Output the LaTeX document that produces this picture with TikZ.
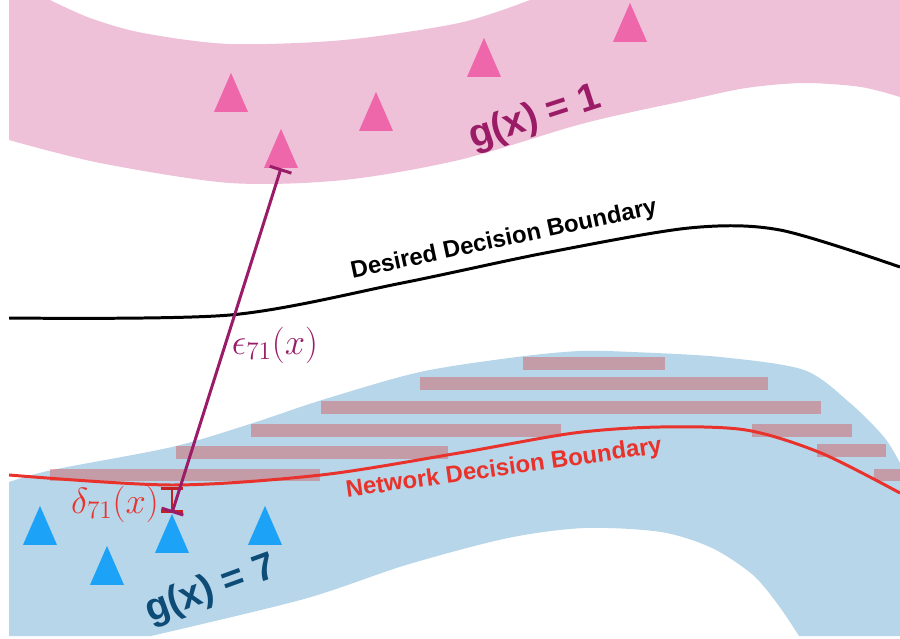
\documentclass[tikz,border=0pt]{standalone}
\usepackage{fontspec}
\setsansfont{Liberation Sans}
\usetikzlibrary{arrows.meta, shapes.geometric}
\definecolor{bandpink}{HTML}{EEC1D8}
\definecolor{bandblue}{HTML}{B8D6E9}
\definecolor{tripink}{HTML}{EE67AA}
\definecolor{triblue}{HTML}{1CA3F8}
\definecolor{barred}{HTML}{E11612}
\definecolor{netred}{HTML}{E8322B}
\definecolor{onemag}{HTML}{9B1C66}
\definecolor{sevennavy}{HTML}{0E4C78}
\definecolor{epsmag}{HTML}{9A1C68}
\definecolor{deltared}{HTML}{C42222}
\tikzset{
  % campione di una classe
  sample/.style={isosceles triangle, isosceles triangle stretches, shape border rotate=90,
    minimum width=0.68cm, minimum height=0.78cm, inner sep=0pt, anchor=apex, draw=none},
  pinksample/.style={sample, fill=tripink},
  bluesample/.style={sample, fill=triblue},
  % barre della zona sbagliata
  wrongbar/.style={fill=barred, fill opacity=0.3},
  % frontiere di decisione
  boundary/.style={line width=1.7pt, line join=round},
  % etichette
  bdlbl/.style={font=\fontsize{13.6}{15}\selectfont\sffamily\bfseries},
  classlbl/.style={font=\fontsize{22}{26}\selectfont\sffamily\bfseries},
  mathlbl/.style={font=\fontsize{20}{24}\selectfont},
  % distanze misurate
  dist/.style={{Bar[width=13pt]}-{Bar[width=13pt]}, line width=1.7pt},
}
\begin{document}
\begin{tikzpicture}[x=0.02cm, y=-0.02cm]
  \fill[white] (0,0) rectangle (900,639);
  \begin{scope}
    \clip (9,0) rectangle (900,636);
    % fascia g(x) = 1
    \fill[bandpink] (9,0) -- plot[smooth] coordinates {(50,0) (90,18) (143,33) (230,44) (344,40) (459,23) (530,0)}
      -- (900,0) -- plot[smooth] coordinates {(900,97) (861,87) (804,83) (746,88) (689,100) (632,112)
      (574,126) (459,160) (344,180) (230,183) (100,163) (9,140)} -- cycle;
    % fascia g(x) = 7
    \fill[bandblue] plot[smooth] coordinates {(9,482) (52,470) (172,447) (250,424) (322,400) (420,372)
      (517,357) (580,351) (632,352) (720,357) (804,370) (850,403) (884,437) (900,463)}
      -- (900,636) -- plot[smooth] coordinates {(799,636) (779,606) (753,575) (712,548) (661,532)
      (585,528) (508,538) (406,565) (304,599) (151,636)} -- (9,636) -- cycle;
    \foreach \xa/\ya/\xb/\yb in {523/357/665/370, 420/377/768/390, 321/401/821/414, 251/424/561/437,
      752/424/852/437, 176/446/448/459, 817/444/886/457, 50/469/320/481, 874/469/900/481}
      \fill[wrongbar] (\xa,\ya) rectangle (\xb,\yb);
    \draw[boundary, black] plot[smooth] coordinates {(9,318) (230,315) (402,283) (545,253) (689,228)
      (780,230) (900,267)};
    \draw[boundary, netred] plot[smooth] coordinates {(9,475) (172,485) (321,475) (459,453) (574,433)
      (660,427) (746,430) (821,453) (900,493)};
  \end{scope}
  \node[bdlbl, rotate=12] (desired) at (504,240) {Desired Decision Boundary};
  \node[bdlbl, text=netred, rotate=8] (network) at (504,469) {Network Decision Boundary};
  \node[classlbl, text=onemag, rotate=18] (gone) at (535,118) {g(x) = 1};
  \node[classlbl, text=sevennavy, rotate=20] (gseven) at (211,590) {g(x) = 7};
  \foreach \n/\x/\y in {p1/231/72, p2/376/91, p3/484/37, p4/630/2, p5/281/128}
    \node[pinksample] (\n) at (\x,\y) {};
  \foreach \n/\x/\y in {b1/40/505, b2/107/545, b3/172/513, b4/265/505}
    \node[bluesample] (\n) at (\x,\y) {};
  \coordinate (netpt) at (172,487);
  \draw[dist, deltared] (b3.apex) -- (netpt);
  \draw[dist, epsmag] (b3.apex) -- (p5.lower side);
  \node[mathlbl, text=epsmag] (eps) at (275,345) {$\epsilon_{71}(x)$};
  \node[mathlbl, text=netred] (delta) at (115,504) {$\delta_{71}(x)$};
\end{tikzpicture}
\end{document}
